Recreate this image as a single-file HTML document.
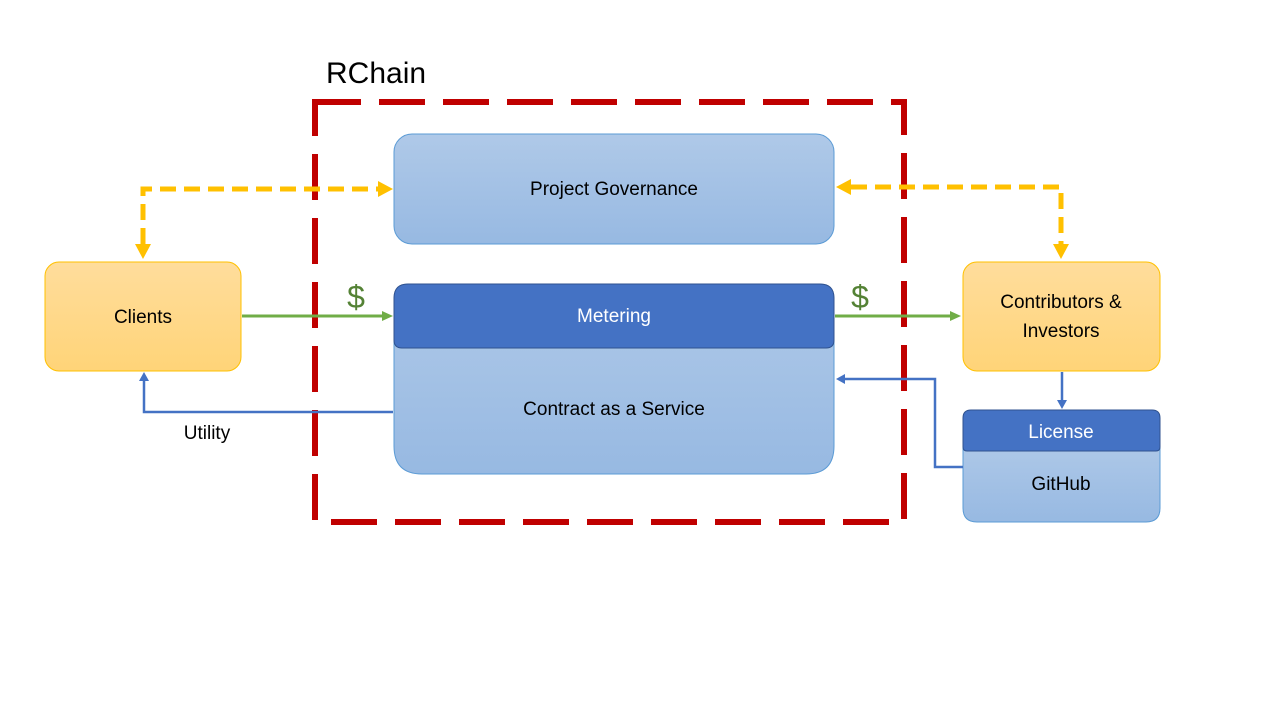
<!DOCTYPE html>
<html><head><meta charset="utf-8"><style>
html,body{margin:0;padding:0;background:#fff;}
svg{display:block;font-family:"Liberation Sans",sans-serif;}
</style></head><body>
<svg width="1280" height="720" viewBox="0 0 1280 720">
<defs>
<linearGradient id="bl" x1="0" y1="0" x2="0" y2="1"><stop offset="0" stop-color="#AFC9E8"/><stop offset="1" stop-color="#97B9E2"/></linearGradient>
<linearGradient id="yl" x1="0" y1="0" x2="0" y2="1"><stop offset="0" stop-color="#FFDD9C"/><stop offset="1" stop-color="#FFD478"/></linearGradient>
</defs>
<text x="326" y="83" font-size="30" fill="#000">RChain</text>
<rect x="315" y="102" width="589" height="420" fill="none" stroke="#C00000" stroke-width="6" stroke-dasharray="46,18"/>
<rect x="394" y="134" width="440" height="110" rx="18" fill="url(#bl)" stroke="#5B9BD5" stroke-width="1"/>
<text x="614" y="195" font-size="19" text-anchor="middle" fill="#000">Project Governance</text>
<path d="M394,300 Q394,284 410,284 L818,284 Q834,284 834,300 L834,446 Q834,474 806,474 L422,474 Q394,474 394,446 Z" fill="url(#bl)" stroke="#5B9BD5" stroke-width="1"/>
<path d="M394,298 Q394,284 408,284 L820,284 Q834,284 834,298 L834,340 Q834,348 826,348 L402,348 Q394,348 394,340 Z" fill="#4472C4" stroke="#2F528F" stroke-width="1"/>
<text x="614" y="322" font-size="19" text-anchor="middle" fill="#fff">Metering</text>
<text x="614" y="415" font-size="19" text-anchor="middle" fill="#000">Contract as a Service</text>
<rect x="45" y="262" width="196" height="109" rx="14" fill="url(#yl)" stroke="#FFC000" stroke-width="1"/>
<text x="143" y="323" font-size="19" text-anchor="middle" fill="#000">Clients</text>
<rect x="963" y="262" width="197" height="109" rx="14" fill="url(#yl)" stroke="#FFC000" stroke-width="1"/>
<text x="1061" y="308" font-size="19" text-anchor="middle" fill="#000">Contributors &amp;</text>
<text x="1061" y="337" font-size="19" text-anchor="middle" fill="#000">Investors</text>
<path d="M963,440 L963,508 Q963,522 977,522 L1146,522 Q1160,522 1160,508 L1160,440 Z" fill="url(#bl)" stroke="#5B9BD5" stroke-width="1"/>
<path d="M963,418 Q963,410 971,410 L1152,410 Q1160,410 1160,418 L1160,447 Q1160,451 1156,451 L967,451 Q963,451 963,447 Z" fill="#4472C4" stroke="#2F528F" stroke-width="1"/>
<text x="1061" y="438" font-size="19" text-anchor="middle" fill="#fff">License</text>
<text x="1061" y="490" font-size="19" text-anchor="middle" fill="#000">GitHub</text>
<path d="M143,244 L143,189 L378,189" fill="none" stroke="#FFC000" stroke-width="5" stroke-dasharray="16,8"/>
<polygon points="378,181 393,189 378,197" fill="#FFC000"/>
<polygon points="135,244 151,244 143,259" fill="#FFC000"/>
<path d="M851,187 L1061,187 L1061,244" fill="none" stroke="#FFC000" stroke-width="5" stroke-dasharray="16,8"/>
<polygon points="851,179 836,187 851,195" fill="#FFC000"/>
<polygon points="1053,244 1069,244 1061,259" fill="#FFC000"/>
<line x1="242" y1="316" x2="384" y2="316" stroke="#70AD47" stroke-width="3"/>
<polygon points="382,311 393,316 382,321" fill="#70AD47"/>
<line x1="835" y1="316" x2="952" y2="316" stroke="#70AD47" stroke-width="3"/>
<polygon points="950,311 961,316 950,321" fill="#70AD47"/>
<text x="356" y="308" font-size="32" text-anchor="middle" fill="#548235">$</text>
<text x="860" y="308" font-size="32" text-anchor="middle" fill="#548235">$</text>
<polyline points="393,412 144,412 144,378" fill="none" stroke="#4472C4" stroke-width="2.5"/>
<polygon points="139,381 144,372 149,381" fill="#4472C4"/>
<text x="207" y="439" font-size="19" text-anchor="middle" fill="#000">Utility</text>
<polyline points="963,467 935,467 935,379 843,379" fill="none" stroke="#4472C4" stroke-width="2.5"/>
<polygon points="845,374 836,379 845,384" fill="#4472C4"/>
<line x1="1062" y1="372" x2="1062" y2="402" stroke="#4472C4" stroke-width="2.5"/>
<polygon points="1057,400 1062,409 1067,400" fill="#4472C4"/>
</svg>
</body></html>
